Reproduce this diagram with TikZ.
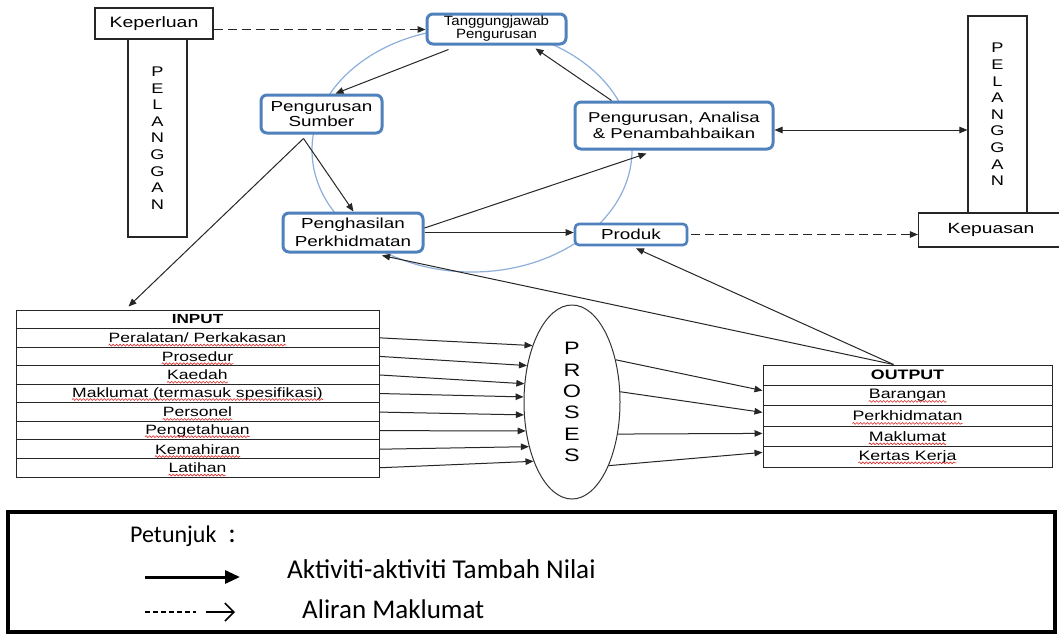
\documentclass[tikz,border=0pt]{standalone}
\usepackage{fontspec}
\usetikzlibrary{arrows.meta,shapes.geometric,decorations.pathmorphing}
\newfontfamily\dfont{Liberation Sans}[FakeStretch=1.3]
\newfontfamily\dfontn{Liberation Sans}[FakeStretch=1.12]
\newfontfamily\lfont{Carlito}
\definecolor{boxblue}{RGB}{79,129,189}
\definecolor{ringblue}{RGB}{140,175,220}
\definecolor{squig}{RGB}{220,40,40}
\newcommand\fs[2]{\fontsize{#1}{#2}\selectfont}

\begin{document}
\begin{tikzpicture}[x=1pt,y=-1pt,
  every node/.style={font=\dfont},
  plain/.style={draw=black!85,line width=1.2pt,fill=white,inner sep=0pt,align=center},
  soft/.style={draw=boxblue,line width=3pt,rounded corners=6pt,fill=white,inner sep=0pt,align=center},
  tip/.style={-{Triangle[length=8pt,width=6.5pt]}},
  arr/.style={draw=black!85,line width=1pt,tip},
  darr/.style={arr,dash pattern=on 9pt off 5pt},
  inrow/.style={draw=black!85,line width=1pt,minimum width=363pt,minimum height=18.56pt,inner sep=0pt,font={\dfont\fs{13.2}{15}}},
  outrow/.style={draw=black!85,line width=1pt,minimum width=289pt,minimum height=20.4pt,inner sep=0pt,font={\dfont\fs{13.7}{15}}},
  intext/.style={inner sep=0pt,font={\dfont\fs{13.5}{15}}},
  outtext/.style={inner sep=0pt,font={\dfont\fs{13.7}{15}}},
  squiggle/.style={draw=squig,line width=0.6pt,decorate,decoration={snake,amplitude=0.9pt,segment length=3.5pt}}
]
\fill[white] (0,0) rectangle (1059,635);
\useasboundingbox (0,0) rectangle (1059,635);

% ring behind the management cycle
\draw[ringblue,line width=1.2pt] (472,150) ellipse [x radius=160, y radius=122];

% customer columns
\node[plain,minimum width=59pt,minimum height=198pt,font={\dfont\fs{14}{16.6}}] (pelL) at (157.5,138)
  {P\\E\\L\\A\\N\\G\\G\\A\\N};
\node[plain,minimum width=118pt,minimum height=31pt,font={\dfont\fs{15}{17}}] (kep) at (154,23.5) {Keperluan};
\node[plain,minimum width=59pt,minimum height=197pt,font={\dfont\fs{14}{16.6}}] (pelR) at (997.5,114.5)
  {P\\E\\L\\A\\N\\G\\G\\A\\N};
\node[plain,minimum width=145pt,minimum height=34pt,font={\dfont\fs{14.8}{17}}] (kepu) at (991,230) {Kepuasan};

% cycle boxes
\node[soft,minimum width=139pt,minimum height=30pt,font={\dfontn\fs{13.4}{13}}] (tj) at (496.5,29) {Tanggungjawab\\Pengurusan};
\node[soft,minimum width=121pt,minimum height=38pt,font={\dfont\fs{14.5}{15.5}}] (ps) at (321.5,114) {Pengurusan\\Sumber};
\node[soft,minimum width=198pt,minimum height=47pt,font={\dfont\fs{14.3}{15.5}}] (pa) at (674,125.5) {Pengurusan, Analisa\\\& Penambahbaikan};
\node[soft,minimum width=140pt,minimum height=39pt,font={\dfont\fs{14.5}{18}}] (ph) at (353,232.5) {Penghasilan\\Perkhidmatan};
\node[soft,line width=2.6pt,rounded corners=4pt,minimum width=112pt,minimum height=21pt,font={\dfont\fs{14.5}{16}}] (prod) at (631,234.5) {Produk};

% input table
\node[inrow] (in0) at (197.5,319.28) {\textbf{INPUT}};
\foreach \t [count=\i] in {Peralatan/ Perkakasan,Prosedur,Kaedah,Maklumat (termasuk spesifikasi),Personel,Pengetahuan,Kemahiran,Latihan}{
  \node[inrow] (in\i) at (197.5,319.28+18.56*\i) {};
  \node[intext] (it\i) at (in\i) {\t};
  \draw[squiggle] ([yshift=-2.5pt]it\i.base west) -- ([yshift=-2.5pt]it\i.base east);
}

% process
\node[ellipse,draw=black!80,line width=1pt,minimum width=96pt,minimum height=194pt,inner sep=0pt,
  align=center,font={\dfont\fs{18}{21.3}}] (proses) at (572,402) {P\\R\\O\\S\\E\\S};

% output table
\node[outrow] (out0) at (907.5,375.2) {\textbf{OUTPUT}};
\foreach \t [count=\i] in {Barangan,Perkhidmatan,Maklumat,Kertas Kerja}{
  \node[outrow] (out\i) at (907.5,375.2+20.4*\i) {};
  \node[outtext] (ot\i) at (out\i) {\t};
  \draw[squiggle] ([yshift=-2.5pt]ot\i.base west) -- ([yshift=-2.5pt]ot\i.base east);
}

% information flows
\draw[darr] ([yshift=-6pt]kep.east) -- ([yshift=-6pt]kep.east -| tj.west);
\draw[darr] ([xshift=3pt]prod.east) -- (prod.east -| kepu.west);

% value-adding activities around the cycle
\draw[arr] ([xshift=23pt,yshift=-4pt]tj.south west) -- ([xshift=76pt]ps.north west);
\draw[arr] ([xshift=38pt]pa.north west) -- ([xshift=110pt,yshift=-3pt]tj.south west);
\draw[arr] ([xshift=44pt,yshift=-4pt]ps.south west) -- ([xshift=72pt]ph.north west);
\draw[arr] ([xshift=44pt,yshift=-4pt]ps.south west) -- ([xshift=113pt,yshift=3pt]in0.north west);
\draw[arr] ([yshift=4.5pt]ph.east) -- ([xshift=73pt,yshift=-3pt]pa.south west);
\draw[arr] (ph.east) -- (ph.east -| prod.west);
\draw[draw=black!85,line width=1pt,{Triangle[length=8pt,width=6.5pt]}-{Triangle[length=8pt,width=6.5pt]}]
  ([yshift=-4.5pt]pa.east) -- ([yshift=-4.5pt]pa.east -| pelR.west);
\draw[arr] ([xshift=-14pt]out0.north) -- ([xshift=29pt,yshift=-2pt]ph.south);
\draw[arr] ([xshift=-14pt]out0.north) -- ([xshift=5pt,yshift=-2pt]prod.south);

% inputs into the process
\draw[arr] (in1.east) -- (proses.125.7);
\draw[arr] (in2.east) -- (proses.141.1);
\draw[arr] (in3.east) -- (proses.159.1);
\draw[arr] (in4.east) -- (proses.174);
\draw[arr] (in5.east) -- (proses.195.3);
\draw[arr] (in6.east) -- (proses.212.3);
\draw[arr] (in7.east) -- (proses.226.6);
\draw[arr] (in8.east) -- (proses.237.9);

% process into outputs
\draw[arr] (proses.44) -- ([yshift=5pt]out1.west);
\draw[arr] (proses.12) -- ([yshift=3.6pt]out2.west);
\draw[arr] (proses.325) -- ([yshift=3pt]out3.west);
\draw[arr] (proses.300) -- ([yshift=4.4pt]out4.west);

% key
\node[draw=black,line width=4pt,minimum width=1047pt,minimum height=120pt,inner sep=0pt] (key) at (531.5,572) {};
\node[anchor=west,inner sep=0pt,font={\lfont\fs{24}{26}}] (kt) at (130,536) {Petunjuk\hspace{12pt}{\fs{28}{28}:}};
\node[anchor=west,inner sep=0pt,font={\lfont\fs{27.2}{29}}] (k1) at (287,569) {Aktiviti-aktiviti Tambah Nilai};
\node[anchor=west,inner sep=0pt,font={\lfont\fs{27}{29}}] (k2) at (302,609) {Aliran Maklumat};
\coordinate (a1) at (145,577);
\coordinate (a2) at (240,577);
\coordinate (b1) at (145,612);
\coordinate (b2) at (196,612);
\coordinate (c1) at (206,612);
\coordinate (c2) at (235,612);
\draw[line width=3pt,-{Triangle[length=15pt,width=13pt]}] (a1) -- (a2);
\draw[line width=1.8pt,dash pattern=on 5pt off 3pt] (b1) -- (b2);
\draw[line width=1.6pt,-{Straight Barb[length=9pt,width=18pt,line width=1.6pt]}] (c1) -- (c2);
\end{tikzpicture}
\end{document}
